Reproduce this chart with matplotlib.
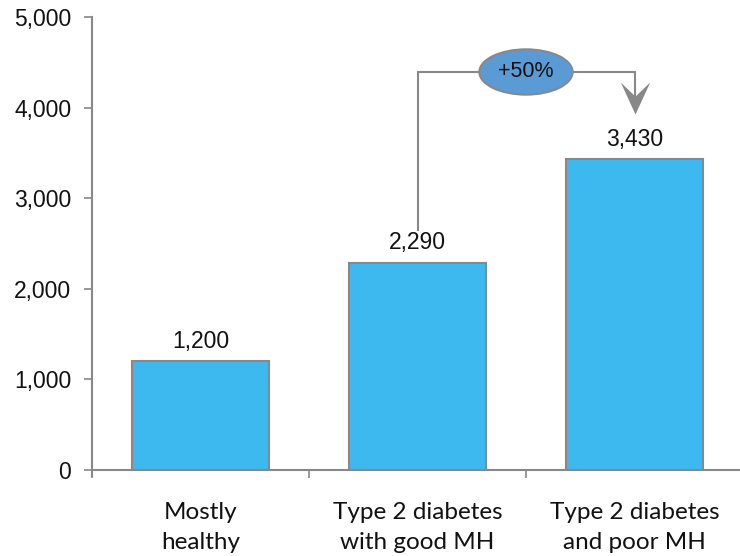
import matplotlib
matplotlib.use("Agg")
import matplotlib.pyplot as plt
from matplotlib.patches import Ellipse
from matplotlib.path import Path

categories = ["Mostly\nhealthy", "Type 2 diabetes\nwith good MH", "Type 2 diabetes\nand poor MH"]
values = [1200, 2290, 3430]
value_labels = ["1,200", "2,290", "3,430"]
yticks = [0, 1000, 2000, 3000, 4000, 5000]
ytick_labels = ["0", "1,000", "2,000", "3,000", "4,000", "5,000"]
change_label = "+50%"

fig = plt.figure(figsize=(7.4, 5.56), dpi=100)
ax = fig.add_axes([92/740, 86/556, 651/740, 453/556])

gray = "#888888"
x = list(range(len(values)))
ax.bar(x, values, width=0.63, color="#3DB9EF", edgecolor=gray, linewidth=1.5, zorder=2)

for xi, v, lab in zip(x, values, value_labels):
    ax.text(xi, v + 145, lab, ha="center", va="baseline", fontsize=16.5,
            family="Liberation Sans", color="#111111")

ax.set_xlim(-0.5, 2.5)
ax.set_ylim(0, 5000)
ax.set_yticks(yticks)
ax.set_yticklabels(ytick_labels, family="Liberation Sans", fontsize=16.5, color="#111111")
ax.set_xticks([-0.5, 0.5, 1.5])
ax.set_xticklabels([])
ax.set_xticks(x, minor=True)
ax.set_xticklabels(categories, minor=True, family="Lato", fontsize=17.5, color="#111111",
                   linespacing=1.55)
ax.tick_params(axis="x", which="minor", length=0, pad=23)
ax.tick_params(axis="x", which="major", length=6, width=1.2, color=gray, direction="out")
ax.tick_params(axis="y", length=6, width=1.2, color=gray, direction="out", pad=9)

for s in ["top", "right"]:
    ax.spines[s].set_visible(False)
for s in ["left", "bottom"]:
    ax.spines[s].set_color(gray)
    ax.spines[s].set_linewidth(1.5)
ax.spines["left"].set_bounds(-70, 5000)

# bracket annotation
y_top = 4393
tip = 3930
ax.plot([1, 1, 2.0, 2.0], [2650, y_top, y_top, tip + 170], color=gray, lw=1.5, zorder=3,
        solid_joinstyle="miter")
head = Path([(0, 0), (-11.5, 25), (0, 14), (11.5, 25), (0, 0)],
            [Path.MOVETO, Path.LINETO, Path.LINETO, Path.LINETO, Path.CLOSEPOLY])
ax.plot([2.0], [tip], marker=head, markersize=46, color=gray, markeredgewidth=0, zorder=3)
ell = Ellipse((1.5, y_top), width=0.43, height=500, facecolor="#5B9BD5", edgecolor=gray,
              linewidth=1.5, zorder=4)
ax.add_patch(ell)
ax.text(1.5, y_top, change_label, ha="center", va="center", fontsize=15.5,
        family="Liberation Sans", color="#111111", zorder=5)

fig.savefig("out.png", dpi=100)
